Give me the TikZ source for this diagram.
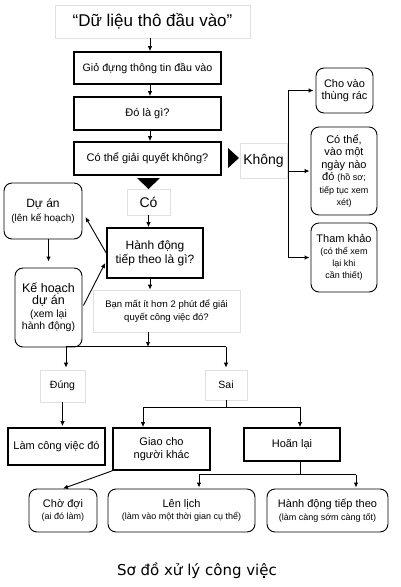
\documentclass[tikz,border=0pt]{standalone}
\usepackage{fontspec}
\setmainfont{Liberation Sans}
\newfontfamily\capfont{DejaVu Sans}
\usetikzlibrary{arrows.meta,calc}
\newcommand\myfs[2]{\fontsize{#1}{#2}\selectfont}
\begin{document}
\begin{tikzpicture}[x=1pt,y=-1pt,
 tb/.style={draw,line width=1.6pt,inner sep=0pt,align=center},
 fb/.style={draw=black!12,line width=0.6pt,inner sep=0pt,align=center},
 rb/.style={draw,line width=0.9pt,rounded corners=8pt,inner sep=0pt,align=center},
 arr/.style={-{Latex[length=5pt,width=4.5pt]},line width=0.9pt},
 ln/.style={line width=0.9pt}]
\fill[white] (0,0) rectangle (400,587);
\useasboundingbox (0,0) rectangle (400,587);

% main column
\node[fb,minimum width=195pt,minimum height=33pt,font=\myfs{17}{20}] (title) at (152.5,21.5) {“Dữ liệu thô đầu vào”};
\node[tb,minimum width=147pt,minimum height=32pt,font=\myfs{10.7}{13}] (b1) at (147.5,68) {Giỏ đựng thông tin đầu vào};
\node[tb,minimum width=147pt,minimum height=33pt,font=\myfs{11}{13}] (b2) at (147.5,113.5) {Đó là gì?};
\node[tb,minimum width=147pt,minimum height=33pt,font=\myfs{11}{13}] (b3) at (147.5,158.5) {Có thể giải quyết không?};
\node[fb,minimum width=47pt,minimum height=35pt,font=\myfs{14}{16}] (khong) at (263.5,160.5) {Không};
\node[fb,minimum width=43pt,minimum height=26pt,font=\myfs{14}{16}] (co) at (148.5,202) {Có};
\node[tb,minimum width=96pt,minimum height=50pt,font=\myfs{12}{14}] (hd) at (155,253) {Hành động\\tiếp theo là gì?};
\node[rb,minimum width=78pt,minimum height=56pt,font=\myfs{12}{14}] (duan) at (43,211) {Dự án\\\myfs{10}{12}(lên kế hoạch)};
\node[rb,minimum width=67pt,minimum height=79pt,font=\myfs{12.5}{12.5}] (kh) at (48.5,307.5) {Kế hoạch\\dự án\\\myfs{10.5}{12}(xem lại\\\myfs{10.5}{12}hành động)};
\node[fb,minimum width=147pt,minimum height=42pt,font=\myfs{9.5}{12.5}] (q2) at (166.5,311) {Bạn mất ít hơn 2 phút để giải\\quyết công việc đó?};
\node[fb,minimum width=45pt,minimum height=32pt,font=\myfs{10.5}{12}] (dung) at (62.5,386) {Đúng};
\node[fb,minimum width=42pt,minimum height=30pt,font=\myfs{10.5}{12}] (sai) at (226,385) {Sai};
\node[tb,minimum width=97pt,minimum height=37pt,font=\myfs{11}{13}] (lam) at (56.5,446.5) {Làm công việc đó};
\node[tb,minimum width=97pt,minimum height=42pt,font=\myfs{11}{13}] (giao) at (161.5,449) {Giao cho\\người khác};
\node[tb,minimum width=96pt,minimum height=33pt,font=\myfs{11}{13}] (hoan) at (292,444.5) {Hoãn lại};
\node[rb,minimum width=68pt,minimum height=43pt,font=\myfs{11}{12.5}] (cho) at (63,510.5) {Chờ đợi\\\myfs{9}{12}(ai đó làm)};
\node[rb,minimum width=147pt,minimum height=43pt,font=\myfs{11}{12.5}] (lich) at (181.5,510.5) {Lên lịch\\\myfs{9}{12}(làm vào một thời gian cụ thể)};
\node[rb,minimum width=121pt,minimum height=43pt,font=\myfs{11}{12.5}] (next) at (327.5,510.5) {Hành động tiếp theo\\\myfs{9}{12}(làm càng sớm càng tốt)};

% right column
\node[rb,minimum width=57pt,minimum height=45pt,font=\myfs{11}{12.5}] (rac) at (344.5,90.5) {Cho vào\\thùng rác};
\node[rb,minimum width=66pt,minimum height=88pt,font=\myfs{11}{12.5}] (sau) at (344,171) {Có thể,\\vào một\\ngày nào\\đó {\myfs{9}{12}(hồ sơ;}\\\myfs{9}{12.5}tiếp tục xem\\\myfs{9}{12}xét)};
\node[rb,minimum width=66pt,minimum height=69pt,font=\myfs{11}{12}] (tk) at (344,257.5) {Tham khảo\\\myfs{9}{11.5}(có thể xem\\\myfs{9}{11.5}lại khi\\\myfs{9}{11.5}cần thiết)};

\node[font=\capfont\myfs{15}{17}] (cap) at (197,571) {Sơ đồ xử lý công việc};

% black triangles
\fill (228,148) -- (239,158) -- (228,168) -- cycle;
\fill (137,178) -- (160,178) -- (148.5,189) -- cycle;

% connectors
\draw[arr] ([xshift=2.5pt]b1.north |- title.south) -- ([xshift=2.5pt]b1.north);
\draw[arr] ([xshift=2.5pt]b1.south) -- ([xshift=2.5pt]b2.north);
\draw[arr] ([xshift=2.5pt]b2.south) -- ([xshift=2.5pt]b3.north);
\draw[arr] (co.south) -- (co.south |- hd.north);
\draw[arr] (hd.west) -- ($(duan.east)+(3,6)$);
\draw[arr,shorten >=6pt] (kh.north |- duan.south) -- (kh.north);
\draw[arr] ($(kh.east)+(1,-2)$) -- ($(hd.west)+(-1,10)$);
\draw[arr] ([xshift=-5pt]hd.south) -- ([xshift=-5pt]hd.south |- q2.north);

\coordinate (s1) at (148,347);
\draw[arr] (q2.south -| s1) -- (s1);
\draw[ln] ($(dung.north)+(3.5,-23)$) -- ($(sai.north)+(0,-23)$);
\draw[arr,shorten >=2pt] ($(dung.north)+(3.5,-23)$) -- ($(dung.north)+(3.5,0)$);
\draw[arr,shorten >=2pt] ($(sai.north)+(0,-23)$) -- (sai.north);
\draw[arr,shorten >=1pt] (dung.south) -- (dung.south |- lam.north);

\coordinate (s2) at (226,408);
\draw[ln] (sai.south) -- (s2);
\draw[ln] ($(giao.north)+(-18.5,-20)$) -- ($(hoan.north)+(8,-20)$);
\draw[arr] ($(giao.north)+(-18.5,-20)$) -- ($(giao.north)+(-18.5,0)$);
\draw[arr] ($(hoan.north)+(8,-20)$) -- ($(hoan.north)+(8,0)$);

\coordinate (s3) at (300,475);
\draw[ln] ([xshift=8pt]hoan.south) -- (s3);
\draw[ln] ($(lich.north)+(17.5,-14)$) -- ($(next.north)+(28.5,-14)$);
\draw[arr,shorten >=1pt] ($(lich.north)+(17.5,-14)$) -- ($(lich.north)+(17.5,0)$);
\draw[arr,shorten >=1pt] ($(next.north)+(28.5,-14)$) -- ($(next.north)+(28.5,0)$);
\draw[arr] (giao.south west) -- (cho.north);

\draw[ln] ([xshift=1pt]khong.east |- rac.west) -- ([xshift=1pt]khong.east |- tk.west);
\draw[arr,shorten >=2pt] ([xshift=1pt]khong.east |- rac.west) -- (rac.west);
\draw[arr,shorten >=1pt] ([xshift=1pt]khong.east |- sau.west) -- (sau.west);
\draw[arr,shorten >=1pt] ([xshift=1pt]khong.east |- tk.west) -- (tk.west);
\end{tikzpicture}
\end{document}
